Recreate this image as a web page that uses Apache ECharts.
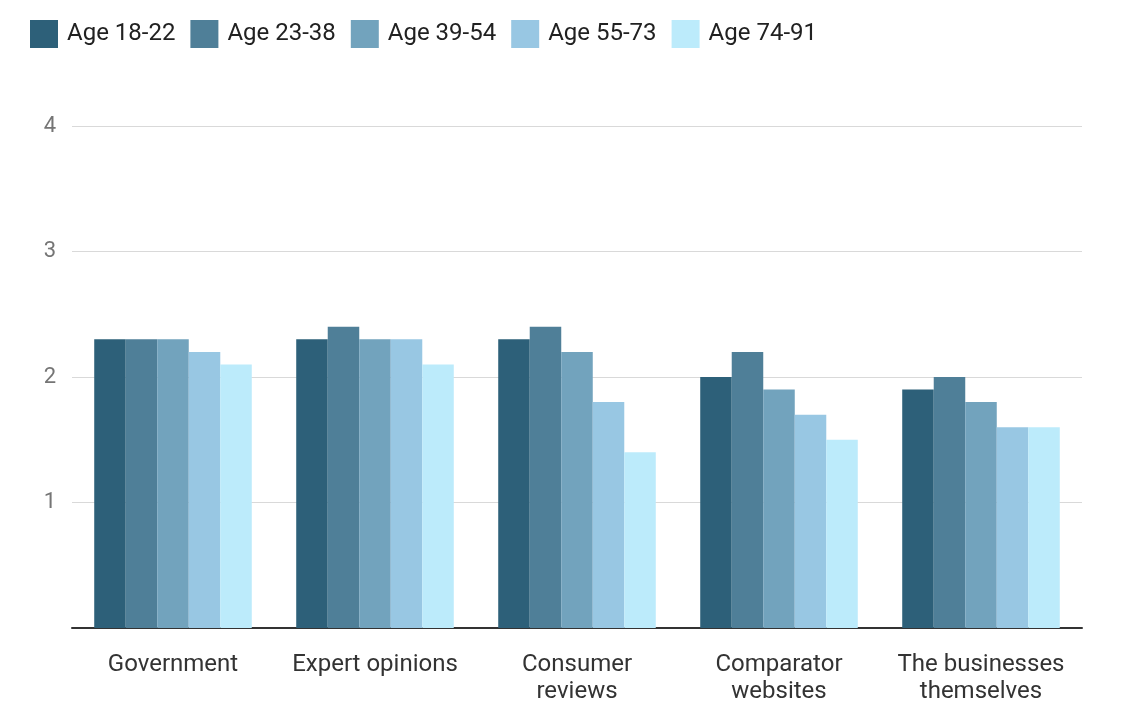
<!DOCTYPE html>
<html><head><meta charset="utf-8">
<script src="https://cdn.jsdelivr.net/npm/echarts@6/dist/echarts.min.js"></script>
<style>html,body{margin:0;padding:0;background:#fff}#c{width:1124px;height:724px}</style>
</head><body><div id="c"></div>
<script>
const categories = ['Government', 'Expert opinions', 'Consumer\nreviews', 'Comparator\nwebsites', 'The businesses\nthemselves'];
const seriesNames = ['Age 18-22', 'Age 23-38', 'Age 39-54', 'Age 55-73', 'Age 74-91'];
const age18_22 = [2.3, 2.3, 2.3, 2.0, 1.9];
const age23_38 = [2.3, 2.4, 2.4, 2.2, 2.0];
const age39_54 = [2.3, 2.3, 2.2, 1.9, 1.8];
const age55_73 = [2.2, 2.3, 1.8, 1.7, 1.6];
const age74_91 = [2.1, 2.1, 1.4, 1.5, 1.6];
const colors = ['#2d6079', '#4f7f98', '#72a3bd', '#98c7e3', '#bcebfb'];
const allData = [age18_22, age23_38, age39_54, age55_73, age74_91];

const chart = echarts.init(document.getElementById('c'));
chart.setOption({
  animation: false,
  color: colors,
  textStyle: { fontFamily: 'Roboto' },
  legend: {
    left: 30, top: 20, padding: 0, itemWidth: 28, itemHeight: 28, itemGap: 15,
    icon: 'rect',
    textStyle: { fontSize: 24, color: '#212121', fontFamily: 'Roboto', padding: [0, 0, 0, 4] },
    data: seriesNames
  },
  grid: { left: 72, right: 42, top: 126, bottom: 96, containLabel: false },
  xAxis: {
    type: 'category', data: categories,
    axisLine: { lineStyle: { color: '#333', width: 2 } },
    axisTick: { show: false },
    axisLabel: { fontSize: 24, color: '#333', margin: 23, lineHeight: 27, interval: 0 }
  },
  yAxis: {
    type: 'value', min: 0, max: 4, interval: 1,
    axisLine: { show: false }, axisTick: { show: false },
    splitLine: { lineStyle: { color: '#d9d9d9', width: 1 } },
    axisLabel: { fontSize: 22, color: '#757575', margin: 16, formatter: v => v === 0 ? '' : String(v) }
  },
  series: seriesNames.map((n, i) => ({
    name: n, type: 'bar', data: allData[i], barGap: '0%', barCategoryGap: '22%'
  }))
});
</script></body></html>
